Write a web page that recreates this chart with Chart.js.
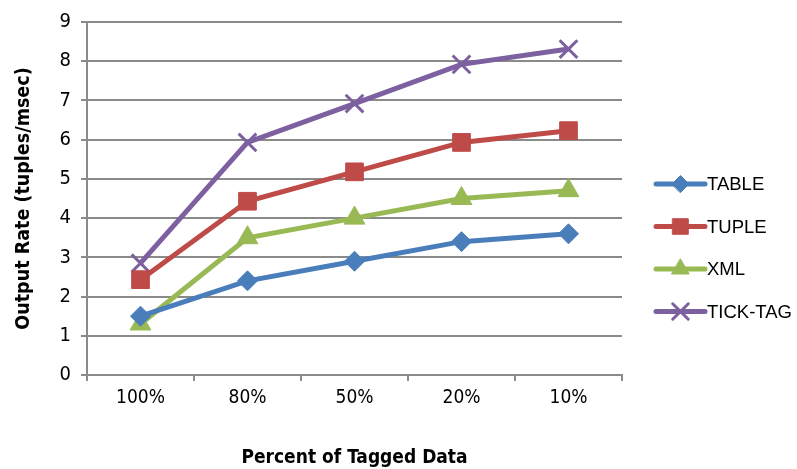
<!DOCTYPE html>
<html>
<head>
<meta charset="utf-8">
<script src="https://cdn.jsdelivr.net/npm/chart.js@4/dist/chart.umd.min.js"></script>
<style>
  html, body { margin: 0; padding: 0; background: #fff; }
  #wrap { width: 797px; height: 469px; position: relative; }
</style>
</head>
<body>
<div id="wrap"><canvas id="c" width="797" height="469"></canvas></div>
<script>
// Output rate per tagging level
const categories = ['100%', '80%', '50%', '20%', '10%'];
const tableRate = [1.5, 2.4, 2.9, 3.4, 3.6];
const tupleRate = [2.43, 4.43, 5.18, 5.93, 6.23];
const xmlRate = [1.3, 3.5, 4.0, 4.5, 4.7];
const tickTagRate = [2.85, 5.93, 6.92, 7.92, 8.31];
const seriesNames = ['TABLE', 'TUPLE', 'XML', 'TICK-TAG'];
const yTicks = [0, 1, 2, 3, 4, 5, 6, 7, 8, 9];

const FONT = '"Liberation Sans Narrow", "DejaVu Sans Condensed", sans-serif';
const GRID = '#8a8a8a';

const styles = [
  { color: '#4A7EBB', point: 'rectRot', radius: 10, legendRadius: 8.5, border: 1 },
  { color: '#BE4B48', point: 'rect', radius: 12.5, legendRadius: 11, border: 1 },
  { color: '#98B954', point: 'triangle', radius: 12, legendRadius: 10, border: 1 },
  { color: '#7D60A0', point: 'crossRot', radius: 12.5, legendRadius: 11, border: 3 }
];
const values = [tableRate, tupleRate, xmlRate, tickTagRate];

const datasets = seriesNames.map((name, i) => ({
  label: name,
  data: values[i],
  borderColor: styles[i].color,
  backgroundColor: styles[i].color,
  pointStyle: styles[i].point,
  pointRadius: styles[i].radius,
  pointHoverRadius: styles[i].radius,
  pointBorderWidth: styles[i].border,
  borderWidth: 5,
  tension: 0
}));

// Legend on the right: a short line with the series marker in the middle
const sideLegend = {
  id: 'sideLegend',
  afterDraw(chart) {
    const ctx = chart.ctx;
    const x0 = 656, x1 = 705, top = 184, step = 42.5;
    ctx.save();
    chart.data.datasets.forEach((ds, i) => {
      const y = top + i * step;
      ctx.strokeStyle = ds.borderColor;
      ctx.lineWidth = 5;
      ctx.lineCap = 'round';
      ctx.beginPath();
      ctx.moveTo(x0, y);
      ctx.lineTo(x1, y);
      ctx.stroke();
      ctx.fillStyle = ds.backgroundColor;
      ctx.strokeStyle = ds.borderColor;
      ctx.lineWidth = ds.pointBorderWidth;
      Chart.helpers.drawPoint(ctx, {
        pointStyle: ds.pointStyle,
        radius: styles[i].legendRadius,
        borderWidth: ds.pointBorderWidth
      }, (x0 + x1) / 2, y);
      ctx.fillStyle = '#000';
      ctx.font = '18.5px "Liberation Sans", Arial, sans-serif';
      ctx.textBaseline = 'middle';
      ctx.textAlign = 'left';
      ctx.fillText(ds.label, x1 + 2, y + 1);
    });
    ctx.restore();
  }
};

new Chart(document.getElementById('c'), {
  type: 'line',
  data: { labels: categories, datasets },
  plugins: [sideLegend],
  options: {
    responsive: false,
    animation: false,
    devicePixelRatio: 1,
    layout: { padding: { left: 0, right: 175, top: 20, bottom: 0 } },
    plugins: { legend: { display: false }, tooltip: { enabled: false } },
    scales: {
      x: {
        offset: true,
        grid: {
          display: true,
          offset: true,
          drawOnChartArea: false,
          drawTicks: true,
          tickLength: 6,
          color: GRID,
          lineWidth: 2
        },
        border: { color: GRID, width: 2 },
        ticks: { color: '#000', font: { family: FONT, size: 19 }, padding: 6 },
        title: {
          display: true,
          text: 'Percent of Tagged Data',
          color: '#000',
          font: { family: FONT, size: 19, weight: 'bold' },
          padding: { top: 18, bottom: 0 }
        },
        afterFit(scale) { scale.height = 94; }
      },
      y: {
        min: 0,
        max: 9,
        afterBuildTicks(scale) { scale.ticks = yTicks.map(v => ({ value: v })); },
        grid: { color: GRID, lineWidth: 2, tickLength: 6 },
        border: { color: GRID, width: 2 },
        ticks: { color: '#000', font: { family: FONT, size: 20 }, padding: 10 },
        title: {
          display: true,
          text: 'Output Rate (tuples/msec)',
          color: '#000',
          font: { family: FONT, size: 19.5, weight: 'bold' },
          padding: { top: 12, bottom: 4 }
        },
        afterFit(scale) { scale.width = 87; }
      }
    }
  }
});
</script>
</body>
</html>
